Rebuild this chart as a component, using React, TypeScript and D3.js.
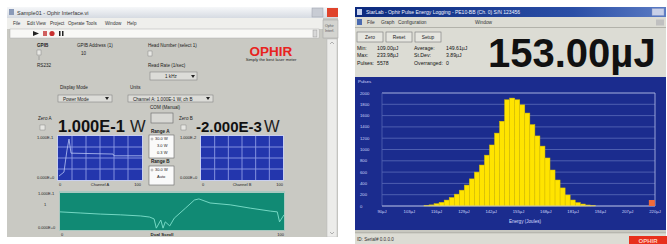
import React from "react";
import * as d3 from "d3";

// ---------- Data ----------
// Right window: pulse energy histogram
const histBinStart = 110; // µJ
const histBinWidth = 2.4; // µJ
const histCounts = [
  10, 20, 40, 65, 105, 150, 210, 280, 370, 480, 600, 725, 900, 1080, 1290, 1500,
  1880, 1910, 1880, 1790, 1645, 1440, 1240, 1060, 850, 637, 460, 320, 195, 106,
  60, 35, 18, 10,
];
const histYTicks = [0, 200, 400, 600, 800, 1000, 1200, 1400, 1600, 1800, 2000];
const histXTicks = [90, 103, 116, 129, 142, 155, 168, 181, 194, 207, 220];
const overrangeEnergy = 218.5;
const statLines = [
  ["Min:", "109.00µJ", "Average:", "149.61µJ"],
  ["Max:", "233.98µJ", "St.Dev:", "3.89µJ"],
  ["Pulses:", "5578", "Overranged:", "0"],
];
const bigReading = "153.00µJ";

// Left window: channel A trace, channel B (empty), dual scroll trend
const chanAIdx = [1.2, 7.1, 10.7, 13.1, 15.5, 65.5, 66.7, 100];
const chanAVal = [0.009, 0.018, 0.068, 0.093, 0.061, 0.059, 0.055, 0.055];
const trendIdx = [0, 9, 18, 27, 36, 40, 42, 43, 45, 46, 47, 49, 51, 56, 60, 62, 67, 76, 85, 94, 97, 98, 100];
const trendVal = [
  0.049, 0.046, 0.043, 0.041, 0.038, 0.035, 0.03, 0.005, 0.027, 0.005, 0.022, 0.011,
  0.032, 0.059, 0.081, 0.084, 0.073, 0.068, 0.059, 0.051, 0.049, 0.022, 0.041,
];
const readingA = "1.000E-1";
const readingB = "-2.000E-3";
const menuLeft = ["File", "Edit", "View", "Project", "Operate", "Tools", "Window", "Help"];
const menuLeftX = [13, 27, 36, 50, 68, 86, 105, 127];
const menuRight = ["File", "Graph", "Configuration", "Window"];
const menuRightX = [367, 381, 398, 475];

const F = "Liberation Sans, Arial, sans-serif";

const T = (p: any) => (
  <text fontFamily={F} fontSize={p.s ?? 4.6} fill={p.c ?? "#222"} x={p.x} y={p.y}
    textAnchor={p.a ?? "start"} fontWeight={p.w ?? "normal"}>{p.children}</text>
);

function BluePlot({ x0, x1, y0, y1, trace }: any) {
  const xs = d3.scaleLinear().domain([0, 100]).range([x0, x1]);
  const ys = d3.scaleLinear().domain([0, 0.1]).range([y1, y0]);
  const vx = d3.range(1, 6).map((i) => i * (100 / 6));
  const hy = [0.025, 0.05, 0.075];
  const line = d3.line<number>().x((d, i) => xs(trace[0][i])).y((d) => ys(d));
  return (
    <g>
      <rect x={x0 - 1} y={y0 - 1} width={x1 - x0 + 2} height={y1 - y0 + 2} fill="#c9d0f0" />
      <rect x={x0} y={y0} width={x1 - x0} height={y1 - y0} fill="#2336ad" />
      {vx.map((v) => (
        <line key={"v" + v} x1={xs(v)} x2={xs(v)} y1={y0} y2={y1} stroke="#8d9be4" strokeWidth={0.9} />
      ))}
      {hy.map((v) => (
        <line key={"h" + v} x1={x0} x2={x1} y1={ys(v)} y2={ys(v)} stroke="#8d9be4" strokeWidth={0.9} />
      ))}
      {trace && <path d={line(trace[1]) || ""} fill="none" stroke="#b8c4f4" strokeWidth={0.8} />}
    </g>
  );
}

export default function App() {
  const hx = d3.scaleLinear().domain([90, 220]).range([382, 655]);
  const hy = d3.scaleLinear().domain([0, 2000]).range([206, 93]);
  const tx = d3.scaleLinear().domain([0, 100]).range([60, 284]);
  const ty = d3.scaleLinear().domain([0, 0.1]).range([230, 193]);
  const trendLine = d3.line<number>().x((d, i) => tx(trendIdx[i])).y((d) => ty(d));

  return (
    <svg width={667} height={244} style={{ position: "fixed", left: 0, top: 0, background: "#fff" }}>
      <defs>
        <linearGradient id="lt" x1="0" x2="0" y1="0" y2="1">
          <stop offset="0" stopColor="#f6f7f9" />
          <stop offset="1" stopColor="#d6dbe2" />
        </linearGradient>
        <linearGradient id="rt" x1="0" x2="1" y1="0" y2="0">
          <stop offset="0" stopColor="#0c2a7e" />
          <stop offset="0.7" stopColor="#2a4ea6" />
          <stop offset="1" stopColor="#5b7cc4" />
        </linearGradient>
      </defs>

      {/* ================= LEFT WINDOW ================= */}
      <rect x={7} y={7} width={331} height={231} fill="#c9c9c3" />
      <rect x={7} y={7} width={331} height={11} fill="url(#lt)" />
      <rect x={9} y={9} width={5} height={6} fill="#8a9ab8" />
      <T x={17} y={15} s={5.5} c="#333">Sample01 - Ophir Interface.vi</T>
      <rect x={312} y={8} width={11} height={9} fill="#c8ccd4" stroke="#9aa0aa" strokeWidth={0.5} />
      <rect x={327} y={8} width={11} height={9} fill="#e0442c" />
      <rect x={7} y={18} width={316} height={11} fill="#efefec" />
      {menuLeft.map((m, i) => (
        <T key={m} x={menuLeftX[i]} y={25} s={4.6} c="#333">{m}</T>
      ))}
      <rect x={10} y={29} width={309} height={9} fill="#f8f8f6" stroke="#b0b0b0" strokeWidth={0.5} />
      <path d="M33,31 L39,33.5 L33,36 Z" fill="#222" />
      <rect x={43} y={31} width={4} height={5} fill="#d06060" />
      <circle cx={52} cy={33.5} r={2.6} fill="#c83030" />
      <rect x={59} y={31} width={1.5} height={5} fill="#222" />
      <rect x={62} y={31} width={1.5} height={5} fill="#222" />
      <rect x={313} y={30} width={4} height={7} fill="#d8d8d8" stroke="#888" strokeWidth={0.4} />
      <rect x={323} y={20} width={15} height={18} fill="#d4d4d0" stroke="#a0a0a0" strokeWidth={0.5} />
      <T x={325} y={27} s={3.6} c="#555">Ophir</T>
      <T x={325} y={32} s={3.6} c="#555">Interf.</T>
      <rect x={327} y={39} width={10} height={198} fill="#ececea" stroke="#b8b8b8" strokeWidth={0.5} />
      <path d="M330,44 L332,42 L334,44" fill="none" stroke="#888" strokeWidth={0.6} />
      <path d="M330,232 L332,234 L334,232" fill="none" stroke="#888" strokeWidth={0.6} />

      {/* top controls */}
      <T x={37} y={47} w="bold">GPIB</T>
      <rect x={37} y={50} width={4} height={5} fill="#e8e8e4" stroke="#777" strokeWidth={0.4} />
      <line x1={39} y1={56} x2={39} y2={60} stroke="#777" strokeWidth={0.5} />
      <T x={37} y={67}>RS232</T>
      <T x={77} y={47}>GPIB Address (1)</T>
      <T x={81} y={55}>10</T>
      <T x={148} y={47}>Head Number (select 1)</T>
      <rect x={148} y={51} width={4} height={5} fill="#e8e8e4" stroke="#777" strokeWidth={0.4} />
      <T x={148} y={67}>Read Rate (1/sec)</T>
      <rect x={150} y={72} width={47} height={8} fill="#dcdcd8" stroke="#777" strokeWidth={0.5} />
      <T x={165} y={78}>1 kHz</T>
      <path d="M191,75 L195,75 L193,78 Z" fill="#222" />
      <T x={60} y={89}>Display Mode</T>
      <rect x={58} y={95} width={54} height={7} fill="#dcdcd8" stroke="#777" strokeWidth={0.5} />
      <T x={63} y={100.5}>Power Mode</T>
      <path d="M105,97 L109,97 L107,100 Z" fill="#222" />
      <T x={130} y={89}>Units</T>
      <rect x={128} y={95} width={85} height={7} fill="#dcdcd8" stroke="#777" strokeWidth={0.5} />
      <T x={133} y={100.5}>Channel A: 1.000E-1 W, ch B</T>
      <path d="M206,97 L210,97 L208,100 Z" fill="#222" />

      {/* OPHIR logo */}
      <text x={271} y={55.5} fontFamily={F} fontSize={13.5} fontWeight="bold" fill="#e8231e" textAnchor="middle">OPHIR</text>
      <T x={271} y={61} s={4.2} a="middle" c="#222">Simply the best laser meter</T>

      {/* middle controls */}
      <T x={150} y={109}>COM (Manual)</T>
      <rect x={151} y={113} width={22} height={10} fill="#d8d8d4" stroke="#666" strokeWidth={0.6} />
      <T x={38} y={120}>Zero A</T>
      <rect x={40} y={125} width={5} height={5} fill="#e6e6e2" stroke="#777" strokeWidth={0.4} />
      <T x={179} y={120}>Zero B</T>
      <rect x={181} y={125} width={5} height={5} fill="#e6e6e2" stroke="#777" strokeWidth={0.4} />
      <text x={58} y={132} fontFamily={F} fontSize={16.5} fontWeight="bold" fill="#111">{readingA}</text>
      <text x={130} y={132} fontFamily={F} fontSize={16.5} fill="#222">W</text>
      <text x={196} y={132} fontFamily={F} fontSize={15} fontWeight="bold" fill="#111">{readingB}</text>
      <text x={264} y={132} fontFamily={F} fontSize={16.5} fill="#222">W</text>
      <T x={151} y={133} w="bold">Range A</T>
      <rect x={149} y={135} width={25} height={23} fill="#fafafa" stroke="#666" strokeWidth={0.6} />
      <circle cx={152} cy={139} r={1} fill="none" stroke="#555" strokeWidth={0.4} />
      <T x={155} y={140} s={4}>30.0 W</T>
      <T x={157} y={147} s={4}>3.0 W</T>
      <T x={157} y={154} s={4}>0.3 W</T>
      <T x={151} y={163} w="bold">Range B</T>
      <rect x={149} y={166} width={25} height={19} fill="#fafafa" stroke="#666" strokeWidth={0.6} />
      <circle cx={152} cy={170} r={1} fill="none" stroke="#555" strokeWidth={0.4} />
      <T x={155} y={171} s={4}>30.0 W</T>
      <T x={157} y={178} s={4}>Auto</T>

      {/* plots A and B */}
      <BluePlot x0={58} x1={142} y0={136} y1={180} trace={[chanAIdx, chanAVal]} />
      <BluePlot x0={201} x1={283} y0={136} y1={180} trace={null} />
      <T x={37} y={139} s={4}>1.000E-1</T>
      <T x={37} y={179} s={4}>0.000E+0</T>
      <T x={59} y={186} s={4}>0</T>
      <T x={100} y={186} s={4} a="middle">Channel A</T>
      <T x={141} y={186} s={4} a="end">100</T>
      <T x={180} y={139} s={4}>1.000E-2</T>
      <T x={180} y={179} s={4}>0.000E+0</T>
      <T x={202} y={186} s={4}>0</T>
      <T x={242} y={186} s={4} a="middle">Channel B</T>
      <T x={283} y={186} s={4} a="end">100</T>

      {/* dual scroll trend */}
      <rect x={59} y={191} width={226} height={40} fill="#a8c8c0" />
      <rect x={60} y={193} width={224} height={37} fill="#118a74" />
      <path d={trendLine(trendVal) || ""} fill="none" stroke="#7fe0cc" strokeWidth={0.9} />
      <T x={38} y={195} s={4}>1.000E-1</T>
      <T x={44} y={206} s={4}>1</T>
      <T x={38} y={229} s={4}>0.000E+0</T>
      <T x={61} y={236} s={4}>0</T>
      <T x={162} y={236} s={4.4} a="middle" w="bold">Dual Scroll</T>
      <T x={284} y={236} s={4} a="end">100</T>
      <rect x={7} y={237} width={331} height={7} fill="#ffffff" />

      {/* ================= RIGHT WINDOW ================= */}
      <rect x={355} y={7} width={311} height={237} fill="#d8d8d0" />
      <rect x={355} y={7} width={311} height={10} fill="url(#rt)" />
      <rect x={357} y={9} width={5} height={6} fill="#c8d4f0" />
      <T x={366} y={14} s={5} c="#f0f4ff">StarLab - Ophir Pulse Energy Logging - PE10-BB (Ch. 0) S/N 123456</T>
      <rect x={652} y={8.5} width={12} height={7} fill="#c8d0e8" stroke="#8090c0" strokeWidth={0.4} />
      <rect x={355} y={17} width={311} height={10} fill="#dcdcd4" />
      <rect x={357} y={19} width={5} height={6} fill="#4a6ab0" />
      {menuRight.map((m, i) => (
        <T key={m + i} x={menuRightX[i]} y={24} s={4.8} c="#333">{m}</T>
      ))}
      <rect x={656} y={19.5} width={8} height={6} fill="#c0c0c0" />
      <line x1={355} y1={27.5} x2={666} y2={27.5} stroke="#a8a8a0" strokeWidth={0.8} />
      <rect x={355} y={28} width={311} height={49} fill="#dcdcd4" />
      {["Zero", "Reset", "Setup"].map((b, i) => (
        <g key={b}>
          <rect x={357 + i * 29} y={32} width={26} height={10} fill="#e6e6e0" stroke="#777" strokeWidth={0.6} />
          <T x={370 + i * 29} y={39} s={4.8} a="middle">{b}</T>
        </g>
      ))}
      {statLines.map((r, i) => (
        <g key={i}>
          <T x={357} y={50 + i * 7.3} s={5.2} c="#111">{r[0]}</T>
          <T x={377} y={50 + i * 7.3} s={5.2} c="#111">{r[1]}</T>
          <T x={414} y={50 + i * 7.3} s={5.2} c="#111">{r[2]}</T>
          <T x={446} y={50 + i * 7.3} s={5.2} c="#111">{r[3]}</T>
        </g>
      ))}
      <text x={488} y={67} fontFamily={F} fontSize={40} fontWeight="bold" fill="#111">{bigReading}</text>

      {/* histogram */}
      <rect x={355} y={77} width={311} height={153} fill="#1b2c8e" />
      {histYTicks.map((v) => (
        <line key={v} x1={382} x2={655} y1={hy(v)} y2={hy(v)}
          stroke={v === 2000 ? "#b8c0e8" : "#5464b4"} strokeWidth={0.9} />
      ))}
      <line x1={382} x2={382} y1={hy(2000)} y2={hy(0)} stroke="#5464b4" strokeWidth={0.8} />
      <line x1={655} x2={655} y1={hy(2000)} y2={hy(0)} stroke="#a8b0e0" strokeWidth={0.9} />
      {histCounts.map((c, i) => {
        const e0 = histBinStart + i * histBinWidth;
        const x0 = hx(e0);
        const x1 = hx(e0 + histBinWidth);
        return (
          <rect key={i} x={x0} y={hy(c)} width={x1 - x0} height={hy(0) - hy(c)}
            fill="#ffe400" stroke="#d9bf00" strokeWidth={0.5} />
        );
      })}
      <line x1={382} x2={655} y1={hy(0)} y2={hy(0)} stroke="#c8cce8" strokeWidth={0.8} />
      <rect x={hx(overrangeEnergy) - 3} y={hy(0) - 6} width={6} height={6} fill="#f06a3a" />
      <T x={358} y={83} s={4.4} c="#d8ddff">Pulses</T>
      {histYTicks.map((v) => (
        <T key={"l" + v} x={360} y={hy(v) + 1.5} s={4.2} c="#d0d6fa">{v}</T>
      ))}
      {histXTicks.map((v) => (
        <T key={"x" + v} x={hx(v)} y={213} s={4.2} a="middle" c="#d0d6fa">{v + "µJ"}</T>
      ))}
      <T x={525} y={223} s={4.6} a="middle" c="#d8ddff">Energy (Joules)</T>
      <rect x={355} y={230} width={311} height={3} fill="#c8c8c0" />
      <line x1={355} x2={666} y1={233} y2={233} stroke="#909088" strokeWidth={0.6} />
      <rect x={355} y={233.5} width={311} height={10.5} fill="#dcdcd4" />
      <T x={357} y={241} s={4.6} c="#333">ID: Serial# 0.0.0.0</T>
      <rect x={629} y={236} width={38} height={8} fill="#e8301c" />
      <T x={648} y={242.5} s={6} a="middle" c="#ffd0c0" w="bold">OPHIR</T>
    </svg>
  );
}
